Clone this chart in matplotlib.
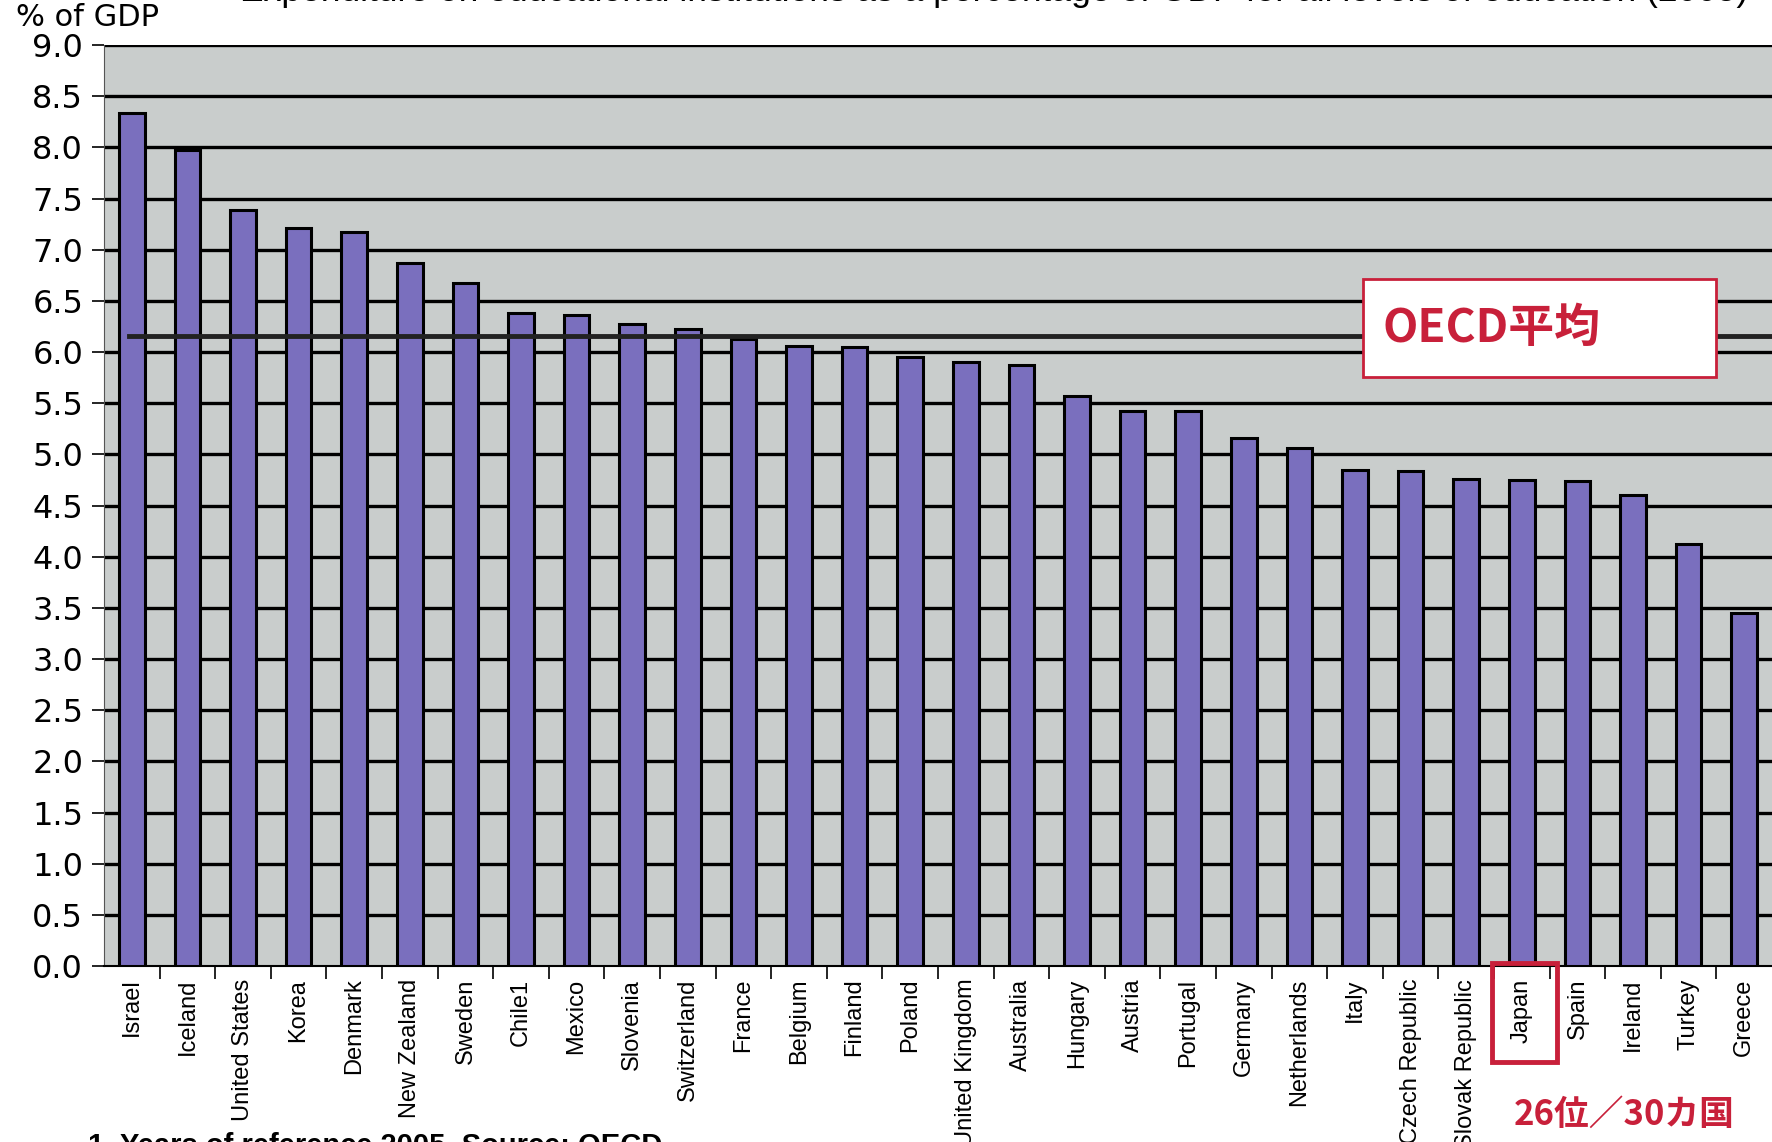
"""
Education spending as % of GDP, OECD countries (2005) - bar chart with OECD average line.
"""
import matplotlib
matplotlib.use("Agg")
import matplotlib.pyplot as plt
from matplotlib.patches import Rectangle

countries = ["Israel", "Iceland", "United States", "Korea", "Denmark", "New Zealand",
             "Sweden", "Chile1", "Mexico", "Slovenia", "Switzerland", "France",
             "Belgium", "Finland", "Poland", "United Kingdom", "Australia", "Hungary",
             "Austria", "Portugal", "Germany", "Netherlands", "Italy", "Czech Republic",
             "Slovak Republic", "Japan", "Spain", "Ireland", "Turkey", "Greece"]
pct_gdp = [8.34, 7.97, 7.39, 7.21, 7.17, 6.87, 6.67, 6.38, 6.36, 6.27, 6.23, 6.13,
           6.06, 6.05, 5.95, 5.90, 5.87, 5.57, 5.42, 5.42, 5.16, 5.06, 4.85, 4.84,
           4.76, 4.75, 4.74, 4.60, 4.12, 3.45]
oecd_avg = 6.16
yticks = [i * 0.5 for i in range(19)]
highlight = "Japan"

BAR = "#7a6fbe"
BG = "#c9cdcc"
RED = "#c8203a"
LAT = ["Liberation Sans", "DejaVu Sans"]
WIDE = ["DejaVu Sans"]
JP = ["Noto Sans CJK JP", "DejaVu Sans"]

fig = plt.figure(figsize=(17.72, 11.42), dpi=100)
ax = fig.add_axes([0.0587, 0.154, 0.9413, 0.8066])
ax.set_facecolor(BG)

x = list(range(len(countries)))
ax.bar(x, pct_gdp, width=0.46, color=BAR, edgecolor="black", linewidth=2.2, zorder=3)

ax.set_xlim(-0.5, len(countries) - 0.5)
ax.set_ylim(0, 9.0)
ax.set_yticks(yticks)
ax.set_yticklabels([f"{v:.1f}" for v in yticks], family=WIDE, fontsize=23)
for v in yticks[1:]:
    ax.axhline(v, color="black", lw=2.4, zorder=1)

# category labels at centres, tick marks at category borders
ax.set_xticks(x)
ax.set_xticklabels(countries, rotation=90, family=LAT, fontsize=17, va="top")
ax.tick_params(axis="x", which="major", length=0, pad=9)
ax.set_xticks([i + 0.5 for i in x[:-1]], minor=True)
ax.tick_params(axis="x", which="minor", length=9, width=1.2, direction="out")
ax.tick_params(axis="y", length=9, width=1.2, direction="out", pad=6)

for s in ("top", "right"):
    ax.spines[s].set_visible(False)
ax.spines["left"].set_color("#555555")
ax.spines["bottom"].set_linewidth(1.5)

# OECD average
ax.plot([-0.05, len(countries) - 0.5], [oecd_avg, oecd_avg], color="#222222", lw=3.5, zorder=4)
ax.add_patch(Rectangle((22.15, 5.76), 6.35, 0.95, facecolor="white", edgecolor=RED,
                       lw=2, zorder=5))
ax.text(22.5, 6.23, "OECD平均", color=RED, family=JP, fontweight="bold",
        fontsize=33, va="center", ha="left", zorder=6)

# highlight Japan's label
ji = countries.index(highlight)
fig.patches.append(Rectangle((1492 / 1772, 1 - 1062 / 1142), 65 / 1772, 99 / 1142,
                             transform=fig.transFigure, fill=False, edgecolor=RED,
                             lw=3.5))
fig.text(1735 / 1772, 1 - 1132 / 1142, "26位／30カ国", color=RED, family=JP,
         fontweight="bold", fontsize=25, ha="right", va="bottom")

fig.text(16 / 1772, 1 - 3 / 1142, "% of GDP", family=WIDE, fontsize=22, va="top")
fig.text(240 / 1772, 1 + 8 / 1142,
         "Expenditure on educational institutions as a percentage of GDP for all levels of education (2005)",
         family=LAT, fontsize=25.5, va="center", ha="left")
fig.text(88 / 1772, 1 - 1132 / 1142, "1. Years of reference 2005. Source: OECD",
         family=LAT, fontsize=21, fontweight="bold", va="top", ha="left")

fig.savefig("out.png", dpi=100)
